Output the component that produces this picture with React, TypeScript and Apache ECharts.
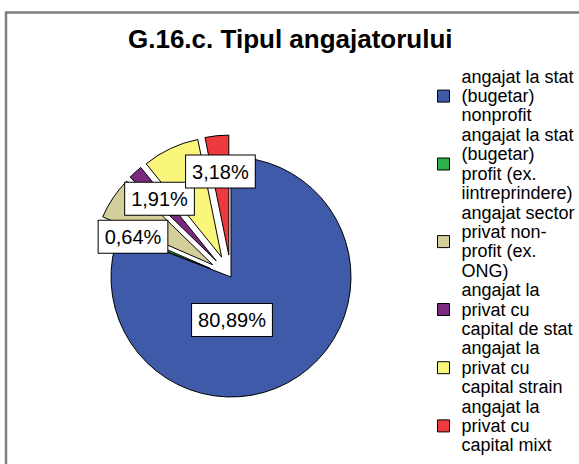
import React, { useEffect, useRef } from 'react';
import * as echarts from 'echarts';

const titleText = 'G.16.c. Tipul angajatorului';

const categories = [
  'angajat la stat (bugetar) nonprofit',
  'angajat la stat (bugetar) profit (ex. iintreprindere)',
  'angajat sector privat non-profit (ex. ONG)',
  'angajat la privat cu capital de stat',
  'angajat la privat cu capital strain',
  'angajat la privat cu capital mixt',
];

const legendLines = [
  'angajat la stat\n(bugetar)\nnonprofit',
  'angajat la stat\n(bugetar)\nprofit (ex.\niintreprindere)',
  'angajat sector\nprivat non-\nprofit (ex.\nONG)',
  'angajat la\nprivat cu\ncapital de stat',
  'angajat la\nprivat cu\ncapital strain',
  'angajat la\nprivat cu\ncapital mixt',
];

const values = [80.89, 0.64, 5.73, 1.91, 7.64, 3.18];
const exploded = [false, true, true, true, true, true];
const labelShown = [true, true, false, true, false, true];

const colors = ['#3F5AA9', '#2DB24B', '#D4CE9B', '#7A2A7F', '#FAF67C', '#EE3A3E'];

const FONT = '"Liberation Sans", Arial, sans-serif';

export default function App() {
  const ref = useRef<HTMLDivElement>(null);

  useEffect(() => {
    if (!ref.current) return;
    const chart = echarts.init(ref.current, undefined, { renderer: 'svg' });

    const cx = 231;
    const cy = 277;
    const radius = 120;
    const explode = 22;
    const labelPush = 21;
    const mainLabelOffset = [1, 43];

    const total = values.reduce((a, b) => a + b, 0);
    const mids: number[] = [];
    let acc = 0;
    values.forEach((v) => {
      const a = ((acc + v / 2) / total) * Math.PI * 2;
      mids.push(a);
      acc += v;
    });

    const legendMap: Record<string, string> = {};
    categories.forEach((c, i) => (legendMap[c] = legendLines[i]));

    const option: any = {
      animation: false,
      backgroundColor: '#ffffff',
      title: {
        text: titleText,
        left: 128,
        top: 26,
        padding: 0,
        textStyle: {
          fontFamily: FONT,
          fontSize: 26,
          fontWeight: 'bold',
          color: '#000',
        },
      },
      graphic: [
        {
          type: 'rect',
          shape: { x: 6, y: 12.5, width: 900, height: 900 },
          style: { fill: 'none', stroke: '#7f7f7f', lineWidth: 2.5 },
          silent: true,
        },
      ],
      legend: {
        orient: 'vertical',
        left: 437,
        top: 67,
        padding: 0,
        itemGap: 0,
        itemWidth: 12,
        itemHeight: 12,
        icon: 'rect',
        selectedMode: false,
        itemStyle: { borderColor: '#000', borderWidth: 1 },
        formatter: (name: string) => legendMap[name] || name,
        textStyle: {
          fontFamily: FONT,
          fontSize: 18,
          lineHeight: 19.4,
          color: '#000',
          padding: [0, 0, 0, 7],
        },
        data: categories,
      },
      series: [
        {
          type: 'pie',
          center: [cx, cy],
          radius: radius,
          startAngle: 90,
          clockwise: true,
          selectedMode: 'multiple',
          selectedOffset: explode,
          avoidLabelOverlap: false,
          emphasis: { disabled: true },
          itemStyle: { borderColor: '#000', borderWidth: 1 },
          select: { itemStyle: { borderColor: '#000', borderWidth: 1 } },
          labelLine: { show: false },
          label: {
            show: true,
            position: 'inside',
            fontFamily: FONT,
            fontSize: 20,
            color: '#000',
            backgroundColor: '#fff',
            borderColor: '#000',
            borderWidth: 1,
            padding: [7, 6, 5, 6],
            formatter: (p: any) => p.value.toFixed(2).replace('.', ',') + '%',
          },
          labelLayout: (p: any) => {
            const i = p.dataIndex;
            if (i === 0) {
              return {
                x: cx + mainLabelOffset[0],
                y: cy + mainLabelOffset[1],
                align: 'center',
                verticalAlign: 'middle',
              };
            }
            const a = mids[i];
            return {
              dx: labelPush * Math.sin(a),
              dy: -labelPush * Math.cos(a),
            };
          },
          data: categories.map((name, i) => ({
            name,
            value: values[i],
            selected: exploded[i],
            itemStyle: { color: colors[i] },
            label: { show: labelShown[i] },
          })),
        },
      ],
    };

    chart.setOption(option);
    return () => chart.dispose();
  }, []);

  return (
    <div
      ref={ref}
      style={{ position: 'absolute', left: 0, top: 0, width: 579, height: 464 }}
    />
  );
}
